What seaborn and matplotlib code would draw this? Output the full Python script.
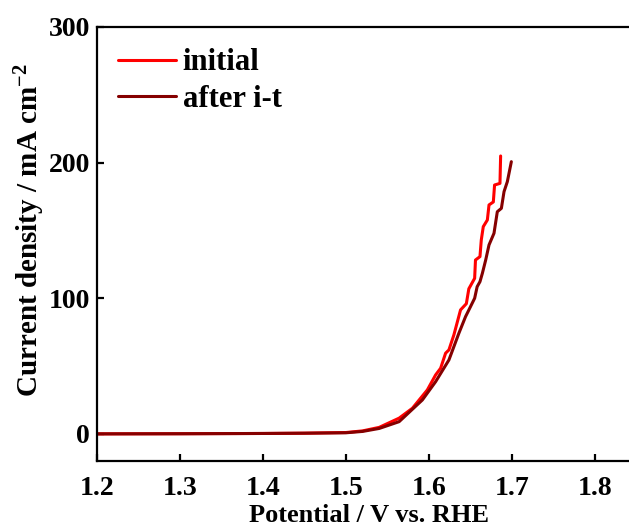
import numpy as np
import pandas as pd
import matplotlib
matplotlib.use("Agg")
import matplotlib.pyplot as plt
import seaborn as sns

# ---- data ----
series_names = ["initial", "after i-t"]
series_colors = ["#ff0000", "#850000"]

initial_x = [1.20, 1.30, 1.40, 1.45, 1.50, 1.52, 1.54, 1.564, 1.580, 1.598, 1.608,
             1.614, 1.620, 1.624, 1.630, 1.638, 1.645, 1.648, 1.655, 1.656, 1.6614,
             1.663, 1.6654, 1.6703, 1.6723, 1.6775, 1.679, 1.6855, 1.6863]
initial_y = [0.0, 0.1, 0.3, 0.5, 1.0, 2.2, 4.8, 11.6, 18.9, 32.4, 43.5,
             48.4, 59.5, 61.9, 73, 91.4, 96, 107, 114.7, 128.2, 130.7,
             143, 152.8, 157.7, 168.8, 171, 183.5, 184.7, 204.9]

after_x = [1.20, 1.30, 1.40, 1.45, 1.50, 1.52, 1.54, 1.564, 1.592, 1.608, 1.624,
           1.636, 1.644, 1.650, 1.655, 1.658, 1.6614, 1.6643, 1.6683, 1.6723,
           1.6783, 1.6823, 1.6872, 1.6904, 1.6944, 1.6992]
after_y = [0.0, 0.1, 0.3, 0.5, 0.8, 1.8, 4.0, 9.0, 25, 38.5, 54.5,
           74.2, 86.4, 93.8, 100, 108.5, 112.2, 118.4, 128.2, 139.3,
           147.9, 163.8, 166.3, 178.6, 186, 200.7]

x_ticks = [1.2, 1.3, 1.4, 1.5, 1.6, 1.7, 1.8]
y_ticks = [0, 100, 200, 300]
x_label = "Potential / V vs. RHE"
y_label = "Current density / mA cm$^{-2}$"

df = pd.concat([
    pd.DataFrame({"x": initial_x, "y": initial_y, "series": series_names[0]}),
    pd.DataFrame({"x": after_x, "y": after_y, "series": series_names[1]}),
], ignore_index=True)

sns.set_style("ticks")
plt.rcParams["font.family"] = ["Liberation Serif", "DejaVu Serif"]
plt.rcParams["font.weight"] = "bold"
plt.rcParams["text.color"] = "black"
plt.rcParams["axes.labelcolor"] = "black"
plt.rcParams["xtick.color"] = "black"
plt.rcParams["ytick.color"] = "black"
plt.rcParams["mathtext.fontset"] = "custom"
plt.rcParams["mathtext.rm"] = "Liberation Serif:bold"
plt.rcParams["mathtext.bf"] = "Liberation Serif:bold"
plt.rcParams["mathtext.default"] = "bf"

fig = plt.figure(figsize=(6.29, 5.29), dpi=100)
ax = fig.add_axes([97 / 629, 68 / 529, 581 / 629, 434 / 529])

sns.lineplot(data=df, x="x", y="y", hue="series", hue_order=series_names,
             palette=series_colors, sort=False, estimator=None, linewidth=2.2,
             ax=ax, legend=False)

ax.set_xlim(1.2, 1.9)
ax.set_ylim(-20, 300)
ax.set_xticks(x_ticks)
ax.set_xticklabels([f"{v:.1f}" for v in x_ticks])
ax.set_yticks(y_ticks)
ax.set_yticklabels([str(v) for v in y_ticks])

for s in ax.spines.values():
    s.set_linewidth(1.6)
    s.set_color("black")
ax.tick_params(direction="in", length=5, width=1.6, labelsize=20,
               colors="black")
ax.tick_params(axis="x", pad=11)
ax.tick_params(axis="y", pad=5)
for lab in ax.get_xticklabels() + ax.get_yticklabels():
    lab.set_fontweight("bold")

ax.set_xlabel(x_label, fontsize=19, fontweight="bold", color="black")
ax.xaxis.set_label_coords(0.468, -0.100)
ax.set_ylabel(y_label, fontsize=21, fontweight="bold", color="black")
ax.yaxis.set_label_coords(-0.086, 0.532)

handles = [plt.Line2D([], [], color=c, linewidth=2.2) for c in series_colors]
ax.legend(handles, series_names, loc="upper left", frameon=False,
          prop={"family": "Liberation Serif", "weight": "bold", "size": 22},
          handlelength=1.9, handletextpad=0.2, labelspacing=0.25,
          bbox_to_anchor=(0.0, 1.0), borderaxespad=0.3)

fig.savefig("out.png", dpi=100)
